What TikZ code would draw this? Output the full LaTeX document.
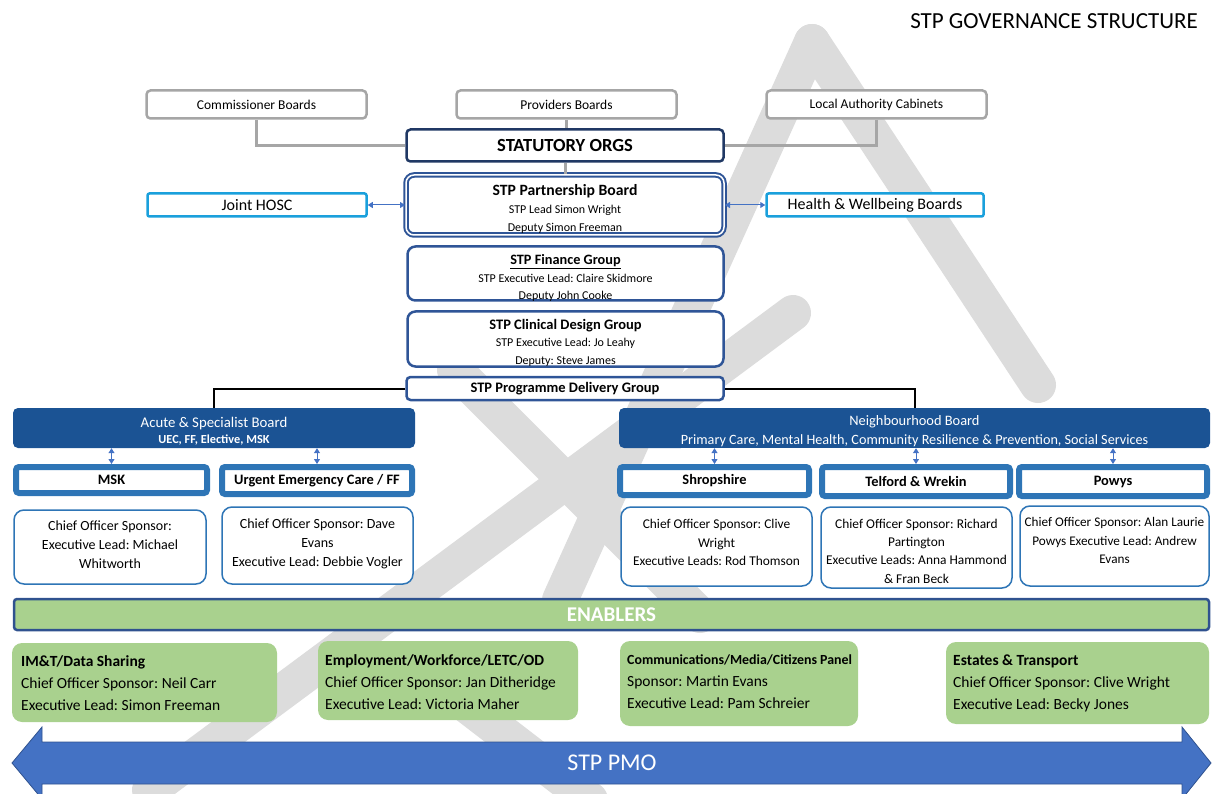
\documentclass[tikz,border=0pt]{standalone}
\usepackage{fontspec}
\setmainfont{Carlito}
\usetikzlibrary{arrows.meta,calc}
\definecolor{gry}{HTML}{A6A6A6}
\definecolor{navy}{HTML}{203864}
\definecolor{navym}{HTML}{2F5597}
\definecolor{cyanb}{HTML}{1AA0DC}
\definecolor{boardblue}{HTML}{1B5394}
\definecolor{midblue}{HTML}{2E75B6}
\definecolor{arrowblue}{HTML}{4472C4}
\definecolor{engreen}{HTML}{A9D18E}
\definecolor{enedge}{HTML}{2F528F}
\definecolor{wmgrey}{HTML}{DCDCDC}
\tikzset{
  greybox/.style={draw=gry, line width=2.5pt, rounded corners=4pt, fill=white, font=\fontsize{13.5}{15}\selectfont},
  navybox/.style={draw=navy, line width=2.5pt, rounded corners=4pt, fill=white},
  hoscbox/.style={draw=cyanb, line width=2.5pt, rounded corners=2pt, fill=white, font=\fontsize{16}{18}\selectfont},
  grpbox/.style={draw=navym, line width=2.5pt, rounded corners=8pt, fill=white},
  grptext/.style={align=center, inner sep=0pt, font=\fontsize{12}{17.5}\selectfont},
  boardbox/.style={fill=boardblue, rounded corners=5pt},
  boardtext/.style={text=white, align=center, inner sep=0pt},
  subbox/.style={draw=midblue, line width=6pt, rounded corners=3pt, fill=white, font=\bfseries\fontsize{14.4}{16}\selectfont},
  infobox/.style={draw=midblue, line width=1.5pt, rounded corners=10pt, fill=white},
  infotext/.style={align=center, inner sep=0pt, font=\fontsize{14}{19}\selectfont},
  enbox/.style={fill=engreen, rounded corners=10pt},
  entext/.style={anchor=west, align=left, inner sep=0pt, font=\fontsize{15.5}{22}\selectfont},
  gconn/.style={draw=gry, line width=3pt},
  bconn/.style={draw=black, line width=2pt},
  dblarrow/.style={draw=arrowblue, line width=1pt, {Triangle[width=6pt,length=5pt]}-{Triangle[width=6pt,length=5pt]}},
  wm/.style={draw=wmgrey, line width=36pt, line cap=round}
}
\begin{document}
\frenchspacing
\begin{tikzpicture}[x=1pt,y=-1pt]
\useasboundingbox (0,0) rectangle (1213,794);
% watermark bands
\draw[wm] (812,42) -- (1038,385);
\draw[wm] (812,42) -- (560,600);
\draw[wm] (793,313) -- (150,790);
\draw[wm] (455,370) -- (700,615);
\draw[wm] (460,700) -- (590,800);
% title
\node[anchor=east, font=\fontsize{23}{26}\selectfont, inner sep=0pt] (title) at (1198,21) {STP GOVERNANCE STRUCTURE};
% top boxes
\node[greybox, minimum width=220pt, minimum height=28pt] (comm) at (256.5,104.5) {Commissioner Boards};
\node[greybox, minimum width=220pt, minimum height=28pt] (prov) at (566.5,104.5) {Providers Boards};
\node[greybox, minimum width=220pt, minimum height=28pt] (lac) at (876.5,104.5) {Local Authority Cabinets};
\node[navybox, minimum width=317pt, minimum height=32pt, font=\bfseries\fontsize{18.5}{20}\selectfont] (stat) at (565,145.5) {STATUTORY ORGS};
\draw[gconn] (comm.south) |- (stat.west);
\draw[gconn] (lac.south) |- (stat.east);
\draw[gconn] (prov.south) -- (prov.south |- stat.north);
% partnership
\node[draw=navym, double=white, double distance=1.5pt, line width=2pt, rounded corners=8pt, fill=white, minimum width=318pt, minimum height=60pt] (pship) at (565,205) {};
\node[grptext, font=\fontsize{12}{18}\selectfont] (pshipt) at (565,208.5) {{\bfseries\fontsize{15.7}{18}\selectfont STP Partnership Board}\\STP Lead Simon Wright\\Deputy Simon Freeman};
\draw[gconn] (stat.south) -- (pship.north);
\node[hoscbox, minimum width=219pt, minimum height=23pt] (hosc) at (257,205) {Joint HOSC};
\node[hoscbox, minimum width=217pt, minimum height=23pt] (hw) at (875,205) {Health \& Wellbeing Boards};
\draw[dblarrow] (hosc.east) -- (pship.west);
\draw[dblarrow] (pship.east) -- (hw.west);
% groups
\node[grpbox, minimum width=316pt, minimum height=54pt] (fin) at (565.5,273.5) {};
\node[grptext] (fint) at (565.5,278) {{\bfseries\fontsize{14.3}{17.5}\selectfont\underline{STP Finance Group}}\\STP Executive Lead: Claire Skidmore\\Deputy John Cooke};
\node[grpbox, minimum width=316pt, minimum height=55pt] (clin) at (565.5,339) {};
\node[grptext] (clint) at (565.5,342.5) {{\bfseries\fontsize{14.5}{17.5}\selectfont STP Clinical Design Group}\\STP Executive Lead: Jo Leahy\\Deputy: Steve James};
\node[grpbox, rounded corners=4pt, minimum width=317pt, minimum height=23pt, font=\bfseries\fontsize{14.5}{16}\selectfont] (prog) at (565,388.5) {STP Programme Delivery Group};
% boards
\node[boardbox, minimum width=402pt, minimum height=40pt] (acute) at (214,428) {};
\node[boardtext] (acutet) at (214,431) {{\fontsize{14.8}{18}\selectfont Acute \& Specialist Board}\\[4pt]{\bfseries\fontsize{12.3}{14}\selectfont UEC, FF, Elective, MSK}};
\node[boardbox, minimum width=591pt, minimum height=40pt] (nbh) at (914.5,428) {};
\node[boardtext] (nbht) at (914.5,432) {{\fontsize{14.4}{20}\selectfont Neighbourhood Board}\\[5pt]{\fontsize{14.2}{16}\selectfont \underline{Primary Care, Mental Health, Community Resilience \& Prevention, Social Services}}};
\draw[bconn] (prog.west) -| (acute.north);
\draw[bconn] (prog.east) -| (nbh.north);
% sub boxes
\node[subbox, minimum width=191pt, minimum height=26pt] (msk) at (111.5,480) {MSK};
\node[subbox, minimum width=190pt, minimum height=27pt] (uec) at (317,480.5) {Urgent Emergency Care / FF};
\node[subbox, minimum width=189pt, minimum height=28pt] (shr) at (714.5,481) {Shropshire};
\node[subbox, minimum width=188pt, minimum height=29pt] (tel) at (916,481.5) {Telford \& Wrekin};
\node[subbox, minimum width=188pt, minimum height=29pt] (pow) at (1113,481.5) {Powys};
\draw[dblarrow] (acute.south -| msk.north) -- (msk.north);
\draw[dblarrow] (acute.south -| uec.north) -- (uec.north);
\draw[dblarrow] (nbh.south -| shr.north) -- (shr.north);
\draw[dblarrow] (nbh.south -| tel.north) -- (tel.north);
\draw[dblarrow] (nbh.south -| pow.north) -- (pow.north);
% info boxes
\node[infobox, minimum width=192pt, minimum height=74pt] (mski) at (110,547) {};
\node[infotext] (mskit) at (110,545) {Chief Officer Sponsor:\\Executive Lead: Michael\\Whitworth};
\node[infobox, minimum width=191pt, minimum height=77pt] (ueci) at (317.5,545.5) {};
\node[infotext] (uecit) at (317.5,543.5) {Chief Officer Sponsor: Dave\\Evans\\Executive Lead: Debbie Vogler};
\node[infobox, minimum width=191pt, minimum height=79pt] (shri) at (716.5,546.5) {};
\node[infotext, font=\fontsize{13.4}{18.5}\selectfont] (shrit) at (716.5,542.5) {Chief Officer Sponsor: Clive\\Wright\\Executive Leads: Rod Thomson};
\node[infobox, minimum width=191pt, minimum height=81pt] (teli) at (916.5,547.5) {};
\node[infotext, font=\fontsize{13.4}{18.3}\selectfont] (telit) at (916.5,551) {Chief Officer Sponsor: Richard\\Partington\\Executive Leads: Anna Hammond\\\& Fran Beck};
\node[infobox, minimum width=189pt, minimum height=80pt] (powi) at (1114.5,546) {};
\node[infotext, font=\fontsize{13.2}{18.5}\selectfont] (powit) at (1114.5,540.5) {Chief Officer Sponsor: Alan Laurie\\Powys Executive Lead: Andrew\\Evans};
% enablers
\node[fill=engreen, draw=enedge, line width=2.5pt, rounded corners=3pt, minimum width=1195pt, minimum height=31pt, text=white, font=\bfseries\fontsize{21}{23}\selectfont] (enab) at (611.5,614.5) {ENABLERS};
\node[enbox, minimum width=265pt, minimum height=79pt] (imt) at (144.5,682.5) {};
\node[entext] (imtt) at (21,683) {\textbf{IM\&T/Data Sharing}\\Chief Officer Sponsor: Neil Carr\\Executive Lead: Simon Freeman};
\node[enbox, minimum width=260pt, minimum height=79pt] (emp) at (448,680.5) {};
\node[entext] (empt) at (325,682) {\textbf{Employment/Workforce/LETC/OD}\\Chief Officer Sponsor: Jan Ditheridge\\Executive Lead: Victoria Maher};
\node[enbox, minimum width=238pt, minimum height=85pt] (comms) at (739,683.5) {};
\node[entext] (commst) at (627,681.5) {{\bfseries\fontsize{13.9}{22}\selectfont Communications/Media/Citizens Panel}\\Sponsor: Martin Evans\\Executive Lead: Pam Schreier};
\node[enbox, minimum width=263pt, minimum height=82pt] (est) at (1077.5,683) {};
\node[entext] (estt) at (953,683) {\textbf{Estates \& Transport}\\Chief Officer Sponsor: Clive Wright\\Executive Lead: Becky Jones};
% PMO arrow
\fill[arrowblue, draw=enedge, line width=0.8pt] (12,763) -- (42,727) -- (42,742) -- (1182,742) -- (1182,727) -- (1211,763) -- (1182,799) -- (1182,784) -- (42,784) -- (42,799) -- cycle;
\node[text=white, font=\fontsize{24}{26}\selectfont] (pmo) at (612,763) {STP PMO};
\end{tikzpicture}
\end{document}
